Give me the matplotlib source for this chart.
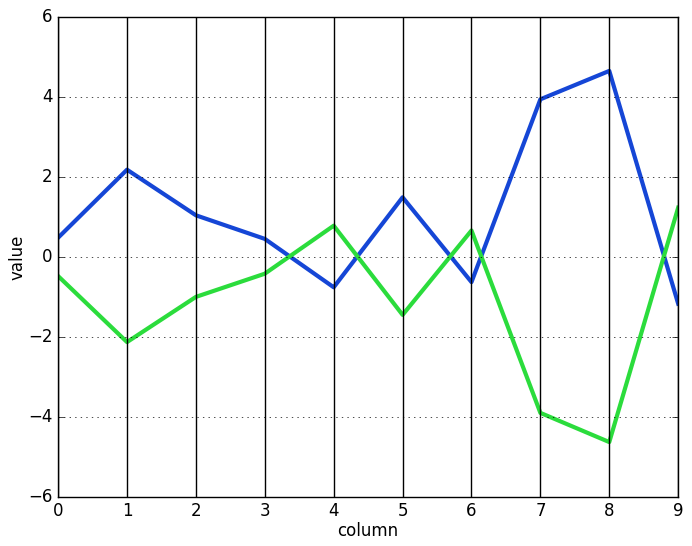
import matplotlib
matplotlib.use("Agg")
import matplotlib.pyplot as plt

plt.style.use("classic")

columns = [0, 1, 2, 3, 4, 5, 6, 7, 8, 9]
series_blue = [0.48, 2.18, 1.04, 0.45, -0.76, 1.49, -0.63, 3.94, 4.65, -1.17]
series_green = [-0.48, -2.13, -1.0, -0.42, 0.78, -1.45, 0.66, -3.9, -4.63, 1.23]

fig = plt.figure(figsize=(6.92, 5.46), dpi=100, facecolor="white")
ax = fig.add_axes([0.084, 0.09, 0.896, 0.879])

ax.plot(columns, series_blue, color="#1546d6", linewidth=3)
ax.plot(columns, series_green, color="#2bdc3c", linewidth=3)

for c in columns:
    ax.axvline(c, color="black", linewidth=1)

ax.set_xlim(0, 9)
ax.set_ylim(-6, 6)
ax.set_xticks(columns)
ax.yaxis.grid(True, linestyle=":", color="black")
ax.xaxis.grid(False)
ax.set_xlabel("column", labelpad=1.5)
ax.set_ylabel("value", labelpad=1.0)

fig.savefig("out.png", dpi=100, facecolor="white")
